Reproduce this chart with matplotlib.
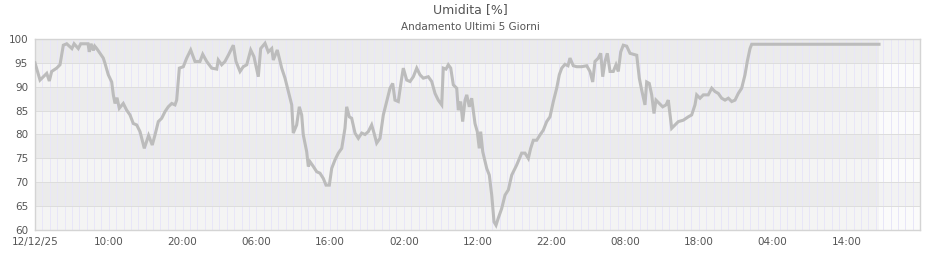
import matplotlib
matplotlib.use("Agg")
import matplotlib.pyplot as plt
import numpy as np

# hours since 12/12/25 00:00 and relative humidity [%]
hours = [0, 0.68, 1.13, 1.59, 1.94, 2.26, 2.94, 3.39, 3.84, 4.30, 5.0, 5.3, 5.87, 6.2,
         7.19, 7.36, 7.6, 7.91, 8.1, 8.37, 8.81, 9.26, 9.49, 9.94, 10.40, 10.62, 10.85,
         11.12, 11.43, 11.97, 12.43, 12.88, 13.33, 13.79, 14.24, 14.82, 15.4, 15.9, 16.27,
         16.72, 17.18, 17.63, 18.07, 18.54, 18.98, 19.21, 19.57, 20.11, 20.57, 21.11,
         21.69, 22.37, 22.74, 23.28, 23.96, 24.64, 24.85, 25.31, 25.76, 26.21, 26.89,
         27.25, 27.80, 28.24, 28.71, 29.25, 29.69, 30.28, 30.60, 31.19, 31.63, 32.10,
         32.31, 32.85, 33.45, 33.90, 34.35, 34.81, 35.02, 35.48, 35.84, 36.16, 36.38,
         36.84, 37.06, 37.29, 37.74, 38.20, 38.64, 39.09, 39.46, 39.91, 40.23, 40.68,
         41.13, 41.59, 42.03, 42.26, 42.62, 42.94, 43.39, 43.84, 44.30, 44.75, 45.19,
         45.65, 45.97, 46.33, 46.78, 47.23, 47.69, 48.14, 48.50, 48.81, 49.26, 49.72,
         49.94, 50.40, 50.85, 51.30, 51.76, 52.20, 52.65, 53.33, 53.79, 54.24, 54.68,
         55.15, 55.36, 55.73, 56.04, 56.37, 56.72, 57.18, 57.40, 57.72, 57.99, 58.31,
         58.54, 58.89, 59.21, 59.66, 59.97, 60.24, 60.43, 60.71, 61.25, 61.60, 61.93,
         62.24, 62.51, 62.82, 63.28, 63.73, 64.18, 64.64, 65.31, 65.99, 66.44, 66.89,
         67.21, 67.57, 68.03, 68.47, 68.92, 69.38, 69.83, 70.28, 70.74, 71.09, 71.42,
         71.86, 72.27, 72.54, 72.99, 73.45, 74.13, 74.81, 75.25, 75.62, 75.93, 76.38,
         76.71, 76.98, 77.29, 77.60, 77.97, 78.41, 78.78, 79.09, 79.42, 79.77, 80.23,
         80.68, 81.59, 81.94, 82.26, 82.71, 82.94, 83.29, 83.62, 83.93, 84.20, 84.65,
         85.11, 85.56, 85.87, 86.33, 86.78, 87.23, 87.91, 88.58, 89.04, 89.49, 89.72,
         90.17, 90.62, 91.29, 91.76, 92.20, 92.65, 93.11, 93.56, 94.01, 94.47, 94.92,
         95.36, 95.82, 96.27, 96.58, 96.95, 97.18, 114.44]
humidity = [95, 91.4, 92.1, 92.8, 91.2, 93.2, 93.9, 94.6, 98.7, 99, 98, 99, 98, 99,
            99, 97.3, 99, 97.6, 98.5, 98, 97, 96, 94.9, 92.5, 91, 88.3, 86.5,
            87.7, 85.5, 86.5, 85.1, 84.1, 82.3, 82, 80.6, 77.1, 79.8, 77.8, 79.9,
            82.7, 83.4, 84.8, 85.8, 86.5, 86.2, 87.2, 93.9, 94.2, 96, 97.7,
            95.3, 95.3, 96.8, 95.3, 93.9, 93.7, 95.6, 94.6, 95.3, 96.6, 98.7,
            95.3, 93.2, 94.2, 94.6, 97.7, 96.3, 92.1, 98, 99.1, 97.3, 98,
            95.6, 97.7, 93.9, 91.8, 89, 86.2, 80.3, 82, 85.8, 84.1, 79.9,
            76.4, 73.3, 74.3, 73.3, 72.2, 71.9, 70.8, 69.4, 69.4, 72.9, 74.7,
            76.1, 77.1, 81.3, 85.8, 83.7, 83.4, 80.3, 79.2, 80.3, 80, 80.6,
            82, 80.3, 78.2, 79.2, 84.1, 86.9, 89.7, 90.7, 87.2, 86.9, 91.8,
            93.9, 91.4, 91.1, 92.1, 93.9, 92.5, 91.8, 92.1, 91.1, 88.6, 87.2,
            86.2, 93.9, 93.7, 94.6, 93.9, 90.4, 89.7, 85.1, 86.9, 82.7, 87.2,
            88.3, 85.8, 87.6, 82.3, 80.6, 77.1, 80.6, 76.4, 72.9, 71.5, 67.3,
            61.7, 61, 62.5, 64.5, 67.3, 68.4, 71.5, 73.6, 76.1, 76.1, 75,
            77.1, 78.8, 78.8, 79.9, 80.9, 82.7, 83.7, 86.9, 89.7, 92.5, 93.9,
            94.7, 94.4, 96, 94.4, 94.2, 94.2, 94.4, 93.2, 91, 95.3, 96,
            97, 92.1, 95.3, 97, 93.2, 93.2, 94.6, 93.2, 97.3, 98.7, 98.5,
            97, 96.6, 91.8, 89.3, 86.2, 91, 90.7, 88.3, 84.4, 87.2, 86.5,
            85.8, 86.2, 87.2, 81.3, 82, 82.7, 83, 83.7, 84.1, 86.2, 88.3,
            87.6, 88.3, 88.3, 89.7, 89, 88.6, 87.6, 87.2, 87.6, 86.9, 87.2,
            88.6, 89.7, 92.5, 95.3, 98, 98.9, 98.9]

tick_hours = [0, 10, 20, 30, 40, 50, 60, 70, 80, 90, 100, 110]
tick_labels = ["12/12/25", "10:00", "20:00", "06:00", "16:00", "02:00",
               "12:00", "22:00", "08:00", "18:00", "04:00", "14:00"]
y_ticks = [60, 65, 70, 75, 80, 85, 90, 95, 100]

fig = plt.figure(figsize=(9.4, 2.6), dpi=100)
ax = fig.add_axes([35 / 940, 30 / 260, 885 / 940, 191 / 260])

# alternating horizontal bands, top band grey
for i, lo in enumerate(y_ticks[:-1]):
    col = "#f2f2f2" if (len(y_ticks) - 2 - i) % 2 == 0 else "#fbfbfb"
    ax.axhspan(lo, lo + 5, color=col, zorder=0, lw=0)

# slight tint over the span that has data
ax.axvspan(hours[0], hours[-1], color="black", alpha=0.028, lw=0, zorder=0.5)

px = 72 / 100  # one pixel in points
for h in range(1, 120):
    ax.axvline(h, color="#e8e6f8", lw=px, zorder=1)
for y in y_ticks[1:-1]:
    ax.axhline(y, color="#dddddd", lw=px, zorder=1.2)

ax.plot(hours, humidity, color="#bcbcbc", lw=2.2, zorder=3,
        solid_joinstyle="miter")

ax.set_xlim(0, 120)
ax.set_ylim(60, 100)
ax.set_xticks(tick_hours)
ax.set_xticklabels(tick_labels)
ax.set_yticks(y_ticks)
ax.tick_params(length=0, labelsize=7.5, colors="#555555", pad=5)
for s in ax.spines.values():
    s.set_color("#d4d4d4")
    s.set_linewidth(1)

fig.text(0.5, 1 - 10 / 260, "Umidita [%]", ha="center", va="center",
         fontsize=9, color="#555555")
fig.text(0.5, 1 - 27 / 260, "Andamento Ultimi 5 Giorni", ha="center",
         va="center", fontsize=7.5, color="#555555")

fig.savefig("out.png", dpi=100)
